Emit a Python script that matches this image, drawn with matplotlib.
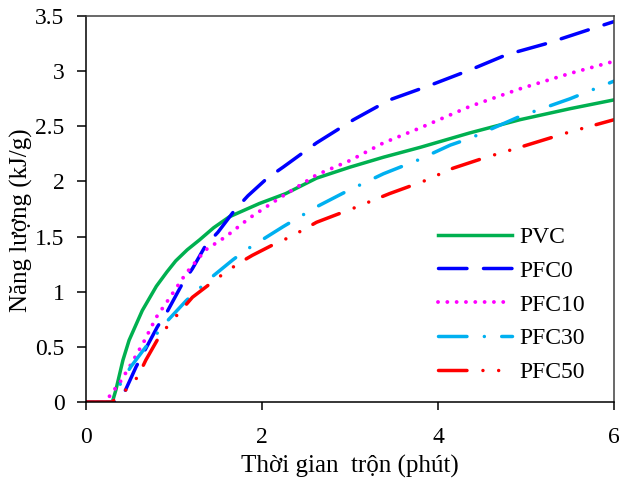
import matplotlib
matplotlib.use("Agg")
import matplotlib.pyplot as plt

plt.rcParams["font.family"] = ["Liberation Serif", "DejaVu Serif"]
plt.rcParams["lines.scale_dashes"] = False

# curves (x = minutes, y = kJ/g)
pvc_x = [0, 0.30, 0.34, 0.42, 0.49, 0.64, 0.80, 0.92, 1.02, 1.15, 1.29, 1.45,
         1.63, 1.97, 2.27, 2.62, 3.0, 3.38, 3.8, 4.36, 4.93, 5.5, 6.0]
pvc_y = [0, 0, 0.11, 0.38, 0.56, 0.83, 1.05, 1.18, 1.28, 1.38, 1.47, 1.58,
         1.68, 1.80, 1.89, 2.03, 2.13, 2.22, 2.31, 2.44, 2.56, 2.66, 2.74]

pfc0_x = [0, 0.34, 0.45, 0.57, 0.81, 0.93, 1.10, 1.21, 1.36, 1.50, 1.69, 1.84,
          2.06, 2.24, 2.62, 3.04, 3.45, 3.87, 4.36, 4.78, 5.23, 5.69, 6.0]
pfc0_y = [0, 0, 0.11, 0.32, 0.68, 0.83, 1.08, 1.21, 1.42, 1.54, 1.74, 1.87,
          2.03, 2.13, 2.35, 2.56, 2.74, 2.86, 3.01, 3.15, 3.25, 3.37, 3.45]

pfc10_x = [0, 0.25, 0.27, 0.38, 0.51, 0.66, 0.80, 0.93, 1.14, 1.36, 1.59, 1.86,
           2.2, 2.62, 3.0, 3.38, 3.78, 4.36, 4.93, 5.5, 6.0]
pfc10_y = [0, 0, 0.06, 0.17, 0.34, 0.55, 0.77, 0.92, 1.17, 1.38, 1.50, 1.67,
           1.85, 2.06, 2.19, 2.35, 2.48, 2.68, 2.84, 2.98, 3.09]

pfc30_x = [0, 0.30, 0.40, 0.51, 0.68, 0.93, 1.14, 1.44, 1.67, 1.82, 1.98, 2.24,
           2.62, 2.96, 3.38, 3.76, 4.14, 4.36, 4.93, 5.5, 6.0]
pfc30_y = [0, 0, 0.18, 0.32, 0.50, 0.74, 0.92, 1.14, 1.29, 1.38, 1.46, 1.59,
           1.77, 1.91, 2.07, 2.19, 2.33, 2.39, 2.59, 2.75, 2.91]

pfc50_x = [0, 0.30, 0.33, 0.47, 0.59, 0.68, 0.83, 0.95, 1.08, 1.21, 1.44, 1.59,
           1.74, 1.89, 2.16, 2.33, 2.62, 3.08, 3.45, 3.83, 4.17, 4.55, 4.93,
           5.5, 6.0]
pfc50_y = [0, 0, 0.03, 0.12, 0.23, 0.38, 0.59, 0.71, 0.83, 0.95, 1.09, 1.18,
           1.26, 1.33, 1.44, 1.50, 1.63, 1.77, 1.89, 2.0, 2.12, 2.22, 2.31,
           2.45, 2.56]

x_ticks = [0, 2, 4, 6]
y_ticks = [0, 0.5, 1, 1.5, 2, 2.5, 3, 3.5]
y_tick_labels = ["0", "0.5", "1", "1.5", "2", "2.5", "3", "3.5"]

fig = plt.figure(figsize=(6.19, 4.8), dpi=100)
ax = fig.add_axes([0.1389, 0.1625, 0.853, 0.804])

lw = 2.5
ax.plot(pvc_x, pvc_y, color="#00B050", lw=lw, label="PVC")
ax.plot(pfc0_x, pfc0_y, color="#0000FF", lw=lw, dashes=[20.5, 11.9],
        dash_capstyle="round", label="PFC0")
ax.plot(pfc10_x, pfc10_y, color="#FF00FF", lw=2.8, dashes=[0.01, 6.7],
        dash_capstyle="round", label="PFC10")
ax.plot(pfc30_x, pfc30_y, color="#00B0F0", lw=lw,
        dashes=[20.5, 12.5, 0.01, 12.5], dash_capstyle="round", label="PFC30")
ax.plot(pfc50_x, pfc50_y, color="#FF0000", lw=lw,
        dashes=[20.5, 11.5, 0.01, 11.3, 0.01, 10.8], dash_capstyle="round",
        label="PFC50")

ax.set_xlim(0, 6)
ax.set_ylim(0, 3.5)
ax.set_xticks(x_ticks)
ax.set_yticks(y_ticks)
ax.set_yticklabels(y_tick_labels)
ax.tick_params(axis="both", direction="out", labelsize=17, width=1.1,
               top=False, right=False)
ax.tick_params(axis="y", length=6.5, pad=9)
ax.tick_params(axis="x", length=6, pad=12)

for side in ("left", "bottom"):
    ax.spines[side].set_linewidth(1.1)
    ax.spines[side].set_color("black")
for side in ("top", "right"):
    ax.spines[side].set_linewidth(1.1)
    ax.spines[side].set_color("#404040")

ax.set_xlabel("Thời gian  trộn (phút)", fontsize=18, labelpad=5)
ax.set_ylabel("Năng lượng (kJ/g)", fontsize=18)
ax.yaxis.set_label_coords(-0.10, 0.47)

ax.legend(loc="upper left", bbox_to_anchor=(0.667, 0.455), frameon=False,
          fontsize=17, handlelength=3.13, handletextpad=0.3, labelspacing=0.52,
          borderpad=0, borderaxespad=0)

fig.savefig("out.png", dpi=100)
